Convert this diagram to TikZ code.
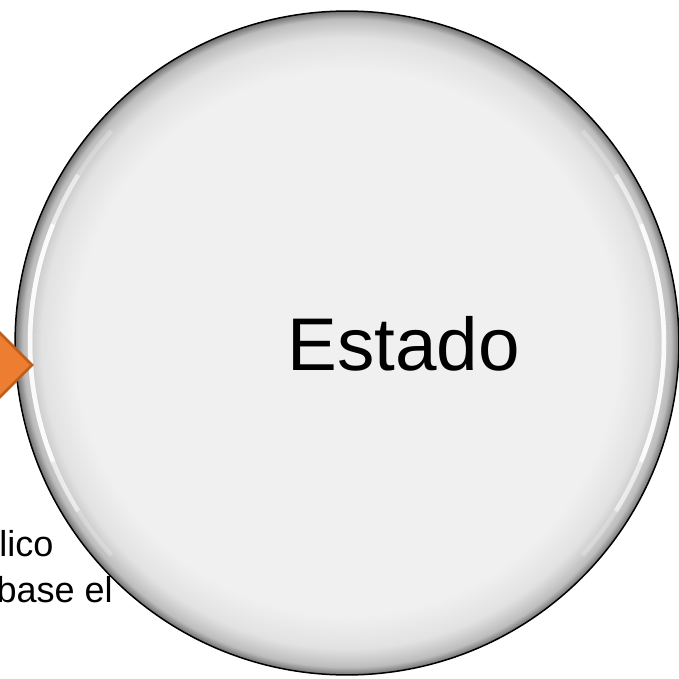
\documentclass[tikz,border=0pt]{standalone}
\usepackage{fontspec}
\setmainfont{Liberation Sans}
\usetikzlibrary{positioning}

\definecolor{circfill}{HTML}{F0F0F0}
\definecolor{rimlight}{HTML}{E2E2E2}
\definecolor{rimmid}{HTML}{BDBDBD}
\definecolor{rimdark}{HTML}{707070}
\definecolor{arroworange}{HTML}{ED7D31}
\definecolor{arrowedge}{HTML}{BC5F1E}

\pgfdeclareradialshading{bevel}{\pgfpoint{0bp}{0bp}}{%
  color(0bp)=(circfill); color(20.5bp)=(circfill);
  color(23bp)=(rimlight); color(24.4bp)=(rimmid);
  color(25bp)=(rimdark); color(50bp)=(rimdark)}

\begin{document}
\begin{tikzpicture}[
    x=0.02cm, y=-0.02cm,
    state/.style={circle, draw=black, line width=0.03cm, shading=bevel, minimum size=13.28cm, inner sep=0pt},
    bigtext/.style={font=\fontsize{42.5}{50}\selectfont, inner sep=0pt},
    sidetext/.style={font=\fontsize{20.5}{24}\selectfont, inner sep=0pt},
    pointer/.style={fill=arroworange, draw=arrowedge, line width=0.05cm, line join=miter}
]
\useasboundingbox (0,0) rectangle (679,679);
\clip (0,0) rectangle (679,679);

% Text behind the circle (cut off at the left)
\node[sidetext, anchor=base west] (line1) at (-1,556) {lico};
\node[sidetext, anchor=base east] (line2) at (113,602) {base el};

% Main circle
\node[state] (estado) at (347,343) {};

% Highlights on the rim
\foreach \op/\a in {0.8/22, 0.5/32, 0.25/42} {
  \draw[white, line width=0.09cm, opacity=\op] (estado.center) ++(180-\a:317) arc[start angle=180-\a, end angle=180+\a, radius=317];
  \draw[white, line width=0.09cm, opacity=\op] (estado.center) ++(-\a:317) arc[start angle=-\a, end angle=\a, radius=317];
}

% Orange pointer tip
\coordinate (tip) at (32,365);
\draw[pointer] (-20,313) -- (tip) -- (-20,417) -- cycle;

% Label
\node[bigtext, anchor=base] (estadolbl) at (403.5,370) {Estado};

\end{tikzpicture}
\end{document}
